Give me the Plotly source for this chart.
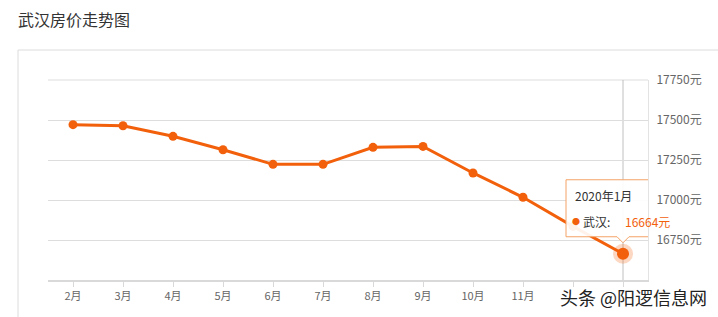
import plotly.graph_objects as go

months = ["2月", "3月", "4月", "5月", "6月", "7月", "8月", "9月", "10月", "11月", "12月", "1月"]
prices = [17471, 17464, 17398, 17314, 17223, 17223, 17329, 17335, 17169, 17017, 16835, 16664]
# the last two month labels are hidden under the watermark in the reference
month_labels = ["2月", "3月", "4月", "5月", "6月", "7月", "8月", "9月", "10月", "11月", "", ""]
y_ticks = [16750, 17000, 17250, 17500, 17750]
y_tick_labels = [f"{v}元" for v in y_ticks]
title_text = "武汉房价走势图"
city = "武汉"
tip_date = "2020年1月"
watermark = "头条 @阳逻信息网"

ORANGE = "#f2600c"
FONT = "Noto Sans CJK SC, Noto Sans, sans-serif"

fig = go.Figure()

# highlighted last point halo
hx, hy = months[-1], prices[-1]
fig.add_trace(go.Scatter(x=[hx], y=[hy], mode="markers",
                         marker=dict(size=20, color="rgba(242,96,12,0.25)"),
                         hoverinfo="skip", showlegend=False))
fig.add_trace(go.Scatter(x=months, y=prices, mode="lines+markers",
                         line=dict(color=ORANGE, width=3),
                         marker=dict(size=9, color=ORANGE),
                         hoverinfo="skip", showlegend=False))
fig.add_trace(go.Scatter(x=[hx], y=[hy], mode="markers",
                         marker=dict(size=12, color=ORANGE),
                         hoverinfo="skip", showlegend=False))

# top gridline (edge of plot)
fig.add_shape(type="line", xref="paper", yref="paper", x0=0, x1=1, y0=1, y1=1,
              line=dict(color="#dddddd", width=1), layer="below")

# crosshair
fig.add_shape(type="line", xref="x", yref="paper", x0=hx, x1=hx, y0=0, y1=1,
              line=dict(color="#b0b0b0", width=0.8), layer="below")

# card border
fig.add_shape(type="rect", xref="paper", yref="paper", x0=-0.05, x1=1.3, y0=-0.5, y1=1.15,
              line=dict(color="#dcdcdc", width=1), layer="below")

# tooltip box with pointer (pixel offsets from the highlighted point)
tip_path = "M-57,74 L60,74 L60,17 L6,17 L0,11 L-6,17 L-57,17 Z"
fig.add_shape(type="path", xsizemode="pixel", ysizemode="pixel",
              xanchor=hx, yanchor=hy, xref="x", yref="y",
              path=tip_path, fillcolor="rgba(255,255,255,0.92)",
              line=dict(color="#f4a366", width=1), layer="above")

fig.add_annotation(x=hx, y=hy, xref="x", yref="y", text=tip_date, showarrow=False,
                   xanchor="left", yanchor="middle", xshift=-50, yshift=58,
                   font=dict(family=FONT, size=12, color="#333333"))
fig.add_annotation(x=hx, y=hy, xref="x", yref="y", text="●", showarrow=False,
                   xanchor="center", yanchor="middle", xshift=-47, yshift=32,
                   font=dict(family=FONT, size=8, color=ORANGE))
fig.add_annotation(x=hx, y=hy, xref="x", yref="y", text=city + ":", showarrow=False,
                   xanchor="left", yanchor="middle", xshift=-42, yshift=32,
                   font=dict(family=FONT, size=12, color="#333333"))
fig.add_annotation(x=hx, y=hy, xref="x", yref="y", text=f"{hy}元", showarrow=False,
                   xanchor="left", yanchor="middle", xshift=0, yshift=32,
                   font=dict(family=FONT, size=12, color=ORANGE))

# watermark
fig.add_annotation(xref="paper", yref="paper", x=(709 - 48) / 600, y=(280 - 297) / 200,
                   text=watermark, showarrow=False, xanchor="right", yanchor="middle",
                   font=dict(family=FONT, size=18, color="#222222"))

fig.update_layout(
    width=718, height=317,
    margin=dict(l=48, r=70, t=80, b=37),
    paper_bgcolor="white", plot_bgcolor="white",
    font=dict(family=FONT),
    title=dict(text=title_text, xref="container", yref="container",
               x=18 / 718, y=1 - 20 / 317, xanchor="left", yanchor="middle",
               font=dict(family=FONT, size=16, color="#333333")),
    xaxis=dict(type="category", categoryorder="array", categoryarray=months,
               tickmode="array", tickvals=months, ticktext=month_labels,
               range=[-0.5, len(months) - 0.5],
               showgrid=False, showline=True, linecolor="#d9d9d9", linewidth=2,
               ticks="outside", ticklen=5, tickcolor="#d9d9d9",
               tickfont=dict(family=FONT, size=11, color="#666666"), fixedrange=True),
    yaxis=dict(side="right", range=[16500, 17750],
               tickmode="array", tickvals=y_ticks, ticktext=y_tick_labels,
               ticklabelstandoff=5,
               showgrid=True, gridcolor="#dddddd", gridwidth=1,
               showline=True, linecolor="#e3e3e3", linewidth=1, zeroline=False,
               ticks="", tickfont=dict(family=FONT, size=12, color="#666666"),
               fixedrange=True),
)

fig.write_html("out.html")
